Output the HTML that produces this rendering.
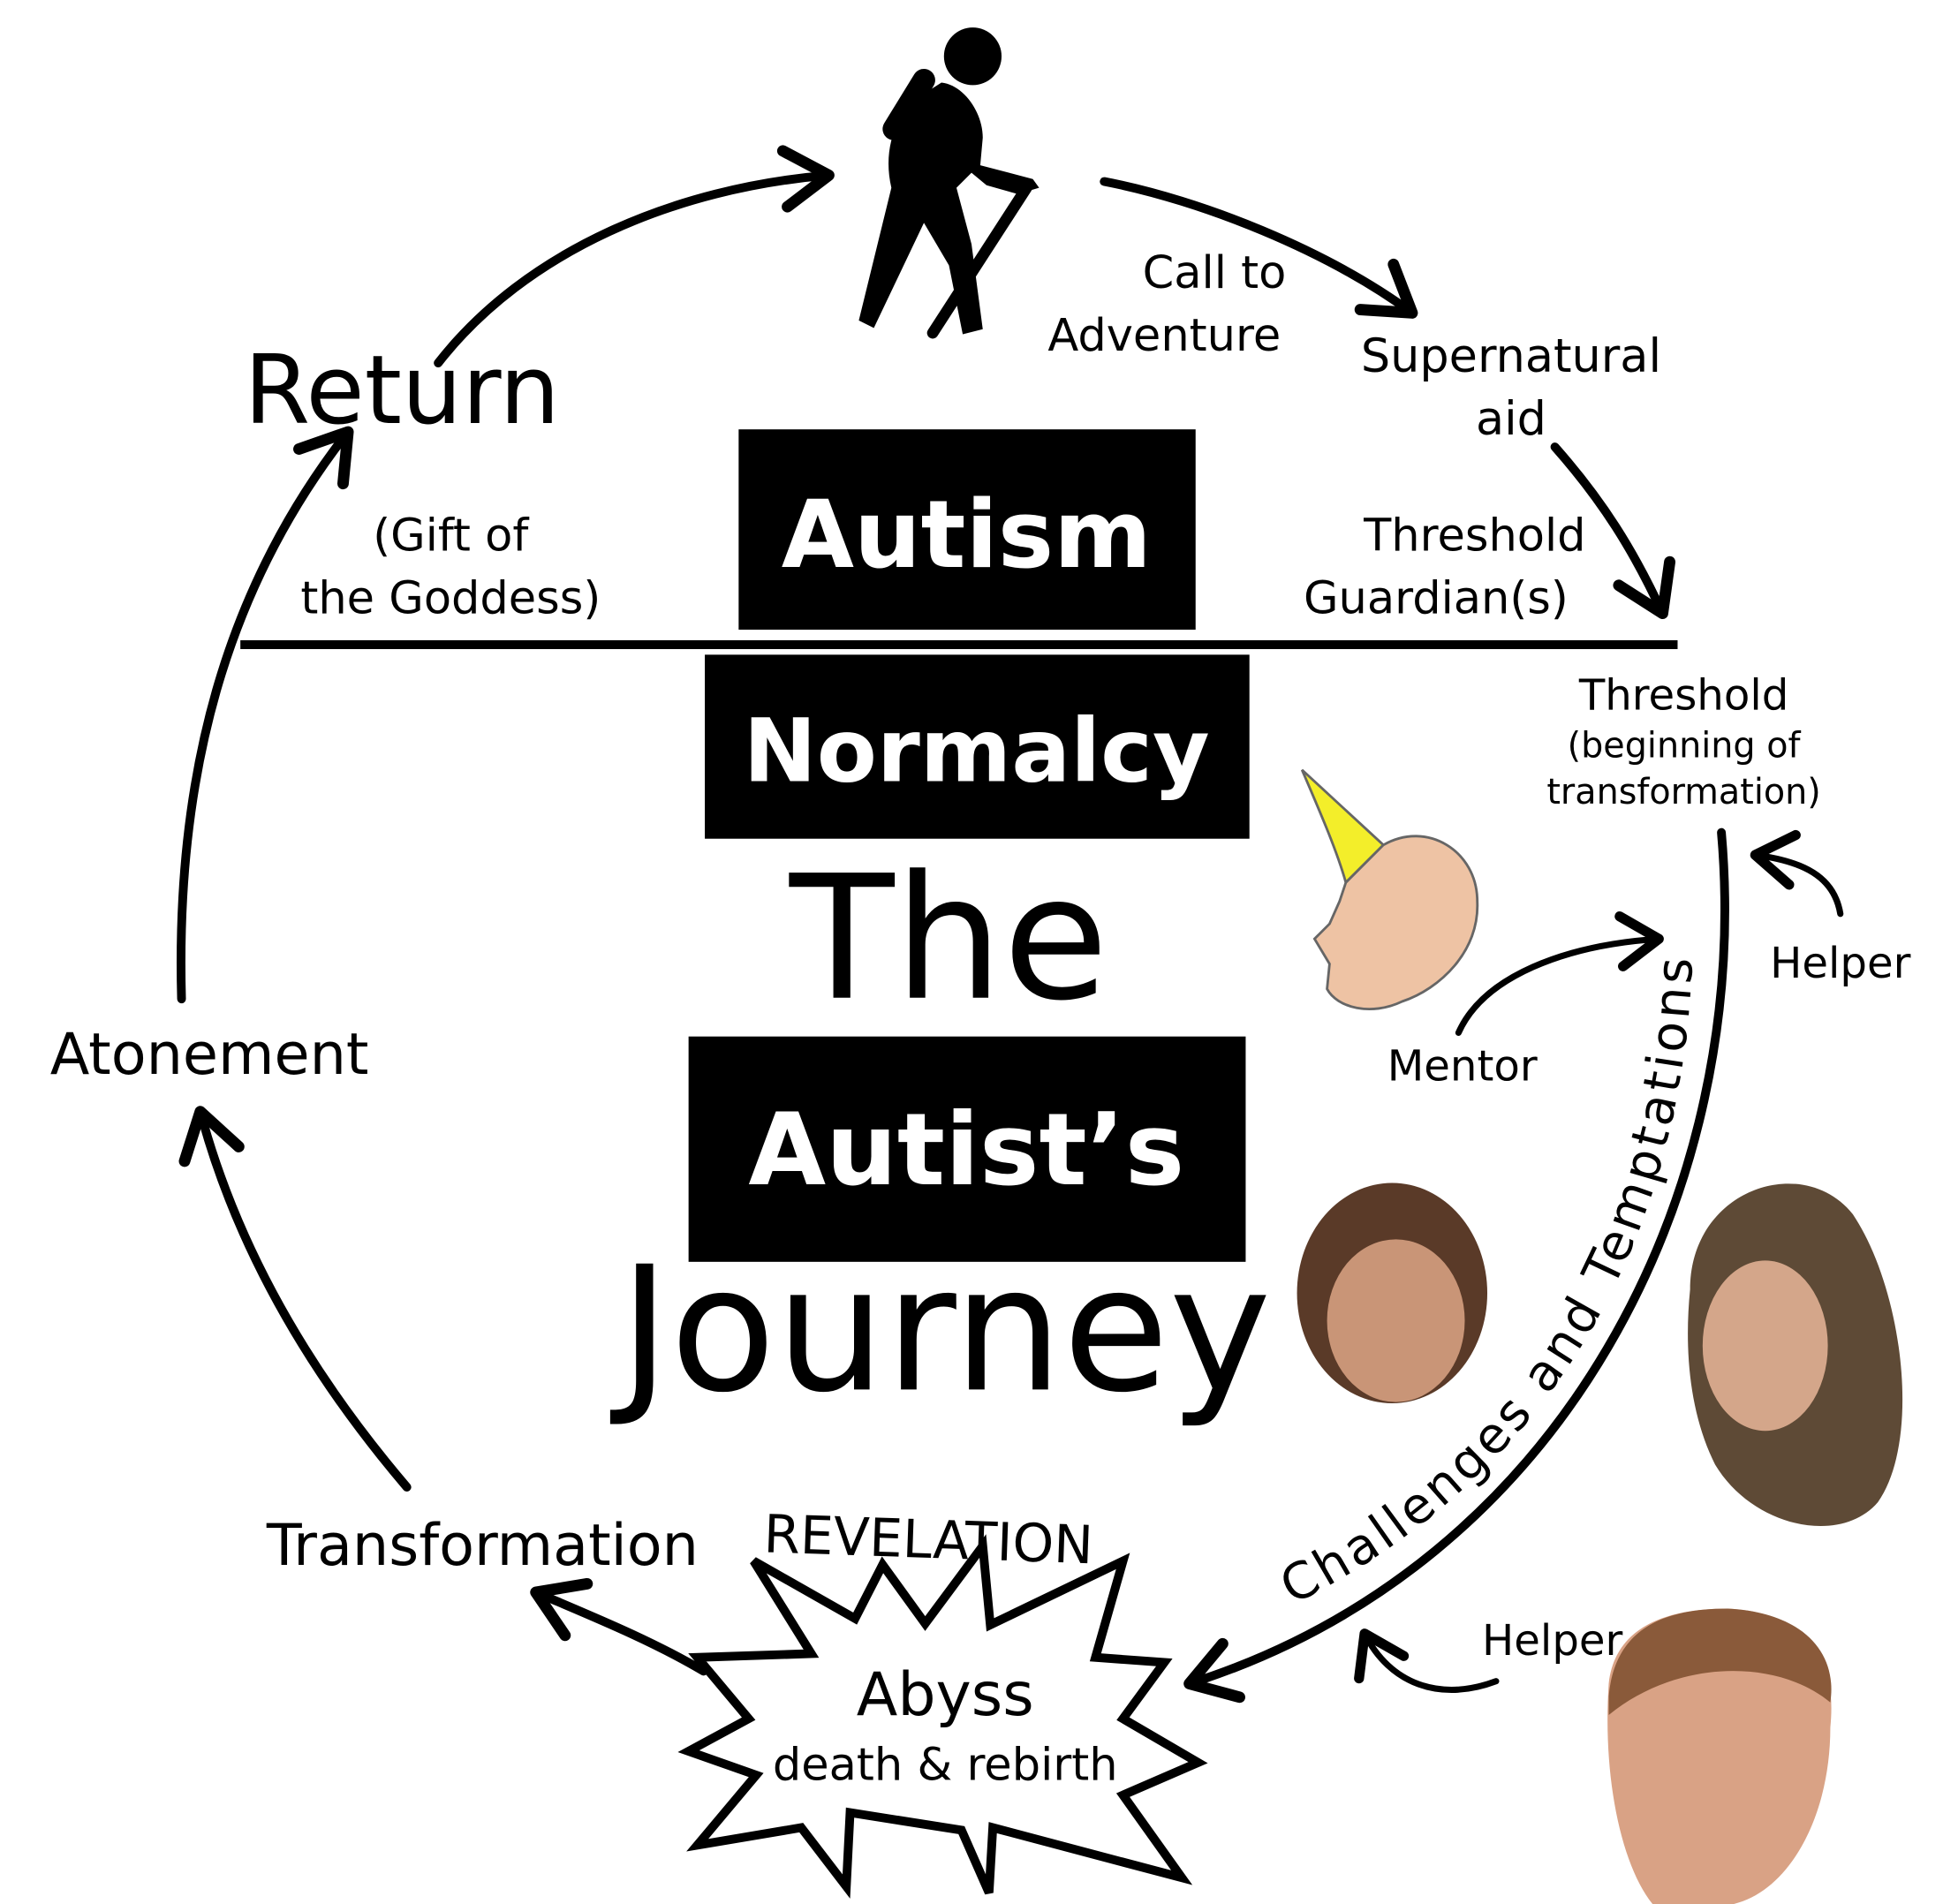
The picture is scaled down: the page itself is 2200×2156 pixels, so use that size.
<!DOCTYPE html>
<html><head><meta charset="utf-8"><style>
html,body{margin:0;padding:0;background:#fff;}
svg{display:block;}
text{font-family:"DejaVu Sans","Liberation Sans",sans-serif;fill:#000;}
</style></head><body>
<svg width="2200" height="2156" viewBox="0 0 1552 1521" preserveAspectRatio="none" xmlns="http://www.w3.org/2000/svg">
<defs>
<marker id="ah" markerWidth="8" markerHeight="8" refX="6" refY="4" orient="auto" markerUnits="strokeWidth">
<path d="M1,0.8 L6,4 L1,7.2" fill="none" stroke="#000" stroke-width="1.3" stroke-linecap="round" stroke-linejoin="round"/>
</marker>
<marker id="ah2" markerWidth="10" markerHeight="10" refX="7" refY="5" orient="auto" markerUnits="strokeWidth">
<path d="M1,1 L7,5 L1,9" fill="none" stroke="#000" stroke-width="1.6" stroke-linecap="round" stroke-linejoin="round"/>
</marker>
</defs>
<rect width="1552" height="1521" fill="#fff"/>

<!-- hiker -->
<circle cx="777" cy="45" r="23" fill="#000"/>
<line x1="738" y1="64" x2="714" y2="103" stroke="#000" stroke-width="18" stroke-linecap="round"/>
<path d="M752,66 C770,68 785,90 785,110 L783,132 L825,143 L830,150 L813,155 L788,148 L776,138 L764,150 L776,195 L785,263 L769,267 L758,212 L738,178 L698,262 L686,256 L712,150 C705,120 715,95 730,80 Z" fill="#000"/>
<line x1="820" y1="150" x2="745" y2="266" stroke="#000" stroke-width="9" stroke-linecap="round"/>

<!-- top arrows -->
<path d="M350,290 C420,200 540,150 662,140" fill="none" stroke="#000" stroke-width="7" stroke-linecap="round" marker-end="url(#ah)"/>
<path d="M882,145 C960,160 1060,200 1128,250" fill="none" stroke="#000" stroke-width="7" stroke-linecap="round" marker-end="url(#ah)"/>
<path d="M1242,357 C1280,400 1305,440 1328,490" fill="none" stroke="#000" stroke-width="7" stroke-linecap="round" marker-end="url(#ah)"/>

<text x="970" y="230" font-size="36" text-anchor="middle">Call to</text>
<text x="930" y="280" font-size="36" text-anchor="middle">Adventure</text>
<text x="1207" y="297" font-size="37" text-anchor="middle">Supernatural</text>
<text x="1207" y="347" font-size="37" text-anchor="middle">aid</text>
<text x="1178" y="440" font-size="36" text-anchor="middle">Threshold</text>
<text x="1147" y="490" font-size="36" text-anchor="middle">Guardian(s)</text>

<line x1="192" y1="515" x2="1340" y2="515" stroke="#000" stroke-width="7"/>

<text x="195" y="338" font-size="76">Return</text>
<text x="360" y="440" font-size="36" text-anchor="middle">(Gift of</text>
<text x="360" y="490" font-size="36" text-anchor="middle">the Goddess)</text>

<!-- boxes -->
<rect x="590" y="343" width="365" height="160" fill="#000"/>
<text x="772" y="453" font-size="75" font-weight="bold" text-anchor="middle" style="fill:#fff">Autism</text>
<rect x="563" y="523" width="435" height="147" fill="#000"/>
<text x="780" y="624" font-size="70" font-weight="bold" text-anchor="middle" style="fill:#fff">Normalcy</text>
<text x="758" y="797" font-size="137" text-anchor="middle">The</text>
<rect x="550" y="828" width="445" height="180" fill="#000"/>
<text x="772" y="946" font-size="80" font-weight="bold" text-anchor="middle" style="fill:#fff">Autist’s</text>
<text x="755" y="1110" font-size="138" text-anchor="middle">Journey</text>

<!-- left arcs -->
<path d="M145,798 C140,620 180,470 278,345" fill="none" stroke="#000" stroke-width="7" stroke-linecap="round" marker-end="url(#ah)"/>
<text x="40" y="858" font-size="46">Atonement</text>
<path d="M325,1188 C250,1100 190,1000 160,888" fill="none" stroke="#000" stroke-width="7" stroke-linecap="round" marker-end="url(#ah)"/>
<text x="213" y="1250" font-size="46">Transformation</text>
<text x="610" y="1245" font-size="42" transform="rotate(2 760 1230)">REVELATION</text>

<!-- starburst -->
<polygon points="602,1247 683,1293 705,1250 739,1297 785,1235 791,1298 897,1247 875,1324 930,1328 897,1373 957,1408 897,1434 944,1500 793,1460 790,1512 768,1462 679,1448 676,1507 640,1460 557,1474 604,1418 550,1399 598,1373 557,1324 648,1321" fill="#fff" stroke="#000" stroke-width="7" stroke-linejoin="miter"/>
<text x="755" y="1370" font-size="48" text-anchor="middle">Abyss</text>
<text x="755" y="1422" font-size="36" text-anchor="middle">death &amp; rebirth</text>
<path d="M562,1335 C520,1310 470,1290 428,1272" fill="none" stroke="#000" stroke-width="7" stroke-linecap="round" marker-end="url(#ah)"/>

<!-- right arc -->
<path d="M1375,665 C1400,950 1250,1250 950,1345" fill="none" stroke="#000" stroke-width="7" stroke-linecap="round" marker-end="url(#ah)"/>
<path id="tpath" d="M1032,1282 C1250,1175 1352,970 1352,742" fill="none"/>
<text font-size="40"><textPath href="#tpath" textLength="640" lengthAdjust="spacing">Challenges and Temptations</textPath></text>

<text x="1345" y="567" font-size="34" text-anchor="middle">Threshold</text>
<text x="1345" y="605" font-size="28" text-anchor="middle">(beginning of</text>
<text x="1345" y="642" font-size="28" text-anchor="middle">transformation)</text>

<path d="M1470,730 C1465,700 1440,688 1402,683" fill="none" stroke="#000" stroke-width="5" stroke-linecap="round" marker-end="url(#ah2)"/>
<text x="1470" y="781" font-size="34" text-anchor="middle">Helper</text>
<path d="M1165,825 C1185,780 1250,755 1325,750" fill="none" stroke="#000" stroke-width="5" stroke-linecap="round" marker-end="url(#ah2)"/>
<text x="1168" y="863" font-size="34" text-anchor="middle">Mentor</text>
<text x="1240" y="1322" font-size="34" text-anchor="middle">Helper</text>
<path d="M1195,1343 C1150,1360 1110,1345 1090,1305" fill="none" stroke="#000" stroke-width="5" stroke-linecap="round" marker-end="url(#ah2)"/>

<!-- chad -->
<path d="M1040,615 L1105,675 L1075,705 C1068,680 1055,650 1040,615Z" fill="#f3ee2a" stroke="#666" stroke-width="2"/>
<path d="M1075,705 L1105,675 C1140,655 1180,680 1180,720 C1182,760 1150,790 1120,800 C1095,812 1068,805 1060,790 L1062,770 L1050,750 L1062,738 L1070,720Z" fill="#eec3a4" stroke="#666" stroke-width="2"/>

<!-- girl 1 -->
<ellipse cx="1112" cy="1033" rx="76" ry="88" fill="#5a3a28"/>
<ellipse cx="1115" cy="1055" rx="55" ry="65" fill="#c99577"/>
<!-- girl 2 -->
<path d="M1350,1030 C1350,950 1440,920 1480,970 C1520,1030 1535,1150 1500,1200 C1470,1235 1400,1220 1370,1170 C1350,1130 1345,1080 1350,1030Z" fill="#5e4a36"/>
<ellipse cx="1410" cy="1075" rx="50" ry="68" fill="#d4a68a"/>
<!-- gosling -->
<path d="M1285,1345 C1290,1300 1330,1285 1380,1285 C1440,1288 1468,1320 1462,1380 C1462,1450 1430,1510 1385,1521 L1320,1521 C1295,1490 1280,1420 1285,1345Z" fill="#d9a285"/>
<path d="M1285,1355 C1290,1300 1330,1285 1380,1285 C1440,1288 1468,1320 1462,1360 C1420,1325 1340,1325 1285,1370Z" fill="#8a5a3a"/>
</svg>
</body></html>
